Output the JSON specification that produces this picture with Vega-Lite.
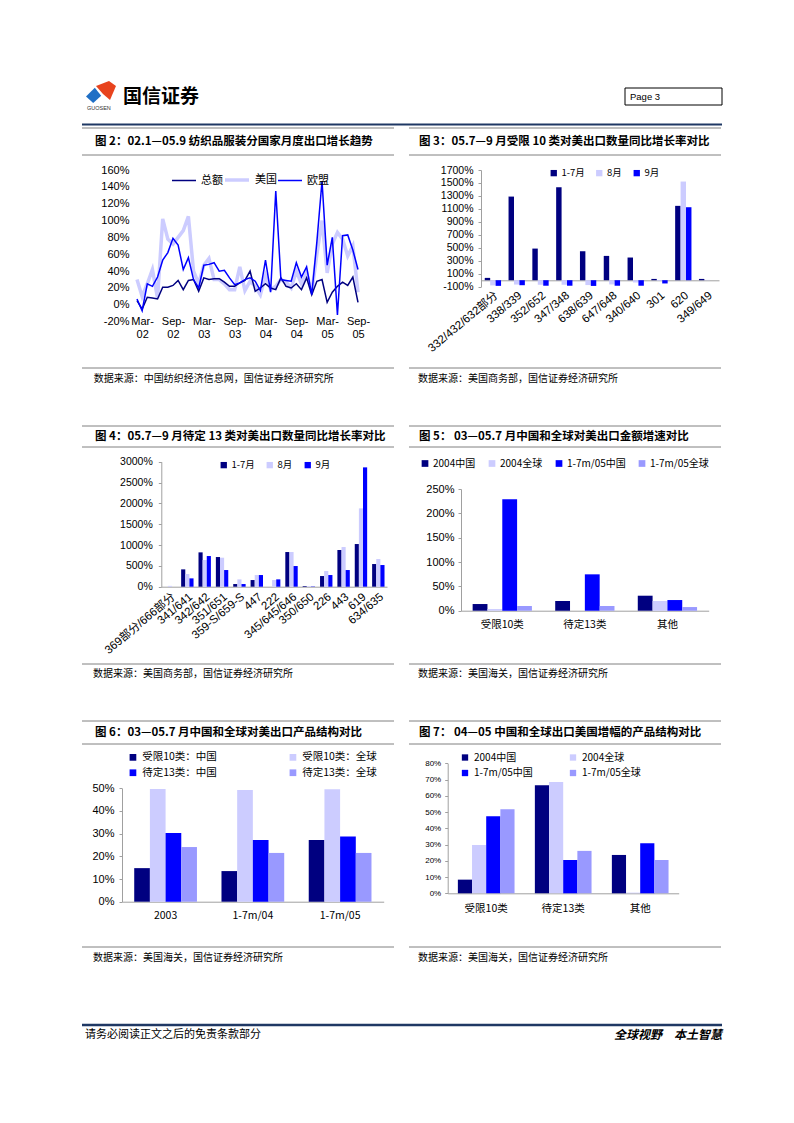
{
  "$schema": "https://vega.github.io/schema/vega-lite/v6.json",
  "background": "white",
  "padding": {"left": 80, "top": 0, "right": 0, "bottom": 0},
  "columns": 2,
  "spacing": {"row": 0, "column": 15},
  "bounds": "flush",
  "align": "each",
  "resolve": {
    "scale": {"color": "independent", "xOffset": "independent", "strokeWidth": "independent"},
    "legend": {"color": "independent", "strokeWidth": "independent"}
  },
  "config": {
    "view": {"stroke": null},
    "font": "Noto Sans CJK SC",
    "axis": {"labelColor": "#000", "grid": false, "domainColor": "#a0a0a0", "tickColor": "#a0a0a0"},
    "legend": {"padding": 0, "labelColor": "#000"}
  },
  "concat": [
    {
      "width": 312, "height": 128,
      "data": {"values": [{"name": "国信证券", "en": "GUOSEN"}]},
      "layer": [
        {"mark": {"type": "rule", "color": "#1f3864", "strokeWidth": 2},
         "encoding": {
           "x": {"datum": 0, "type": "quantitative", "scale": {"domain": [0, 312], "nice": false, "zero": false}, "axis": null},
           "x2": {"datum": 640},
           "y": {"datum": 124.5, "type": "quantitative", "scale": {"domain": [0, 128], "nice": false, "reverse": true}, "axis": null}}},
        {"mark": {"type": "point", "shape": "M -1 0.2 L 0.1 -0.9 L 0.9 0.1 L -0.1 1 Z", "size": 256, "filled": true, "color": "#1f6fc5", "opacity": 1},
         "encoding": {
           "x": {"datum": 12, "type": "quantitative", "scale": {"domain": [0, 312], "nice": false, "zero": false}, "axis": null},
           "y": {"datum": 95, "type": "quantitative", "scale": {"domain": [0, 128], "nice": false, "reverse": true}, "axis": null}}},
        {"mark": {"type": "point", "shape": "M -1 -0.5 L 0.3 -1 L 1 -0.5 L 0.4 0.9 L -0.3 0.3 Z", "size": 400, "filled": true, "color": "#e8431d", "opacity": 1},
         "encoding": {
           "x": {"datum": 24, "type": "quantitative", "scale": {"domain": [0, 312], "nice": false, "zero": false}, "axis": null},
           "y": {"datum": 91, "type": "quantitative", "scale": {"domain": [0, 128], "nice": false, "reverse": true}, "axis": null}}},
        {"mark": {"type": "text", "align": "left", "baseline": "middle", "fontSize": 5.5, "font": "Liberation Sans", "color": "#333"},
         "encoding": {
           "text": {"field": "en"},
           "x": {"datum": 5, "type": "quantitative", "scale": {"domain": [0, 312], "nice": false, "zero": false}, "axis": null},
           "y": {"datum": 108, "type": "quantitative", "scale": {"domain": [0, 128], "nice": false, "reverse": true}, "axis": null}}},
        {"mark": {"type": "text", "align": "left", "baseline": "middle", "fontSize": 19, "fontWeight": "bold", "color": "#000"},
         "encoding": {
           "text": {"field": "name"},
           "x": {"datum": 41, "type": "quantitative", "scale": {"domain": [0, 312], "nice": false, "zero": false}, "axis": null},
           "y": {"datum": 97, "type": "quantitative", "scale": {"domain": [0, 128], "nice": false, "reverse": true}, "axis": null}}}
      ]
    },
    {
      "width": 312, "height": 128,
      "data": {"values": [{"p": "Page   3"}]},
      "layer": [
        {"mark": {"type": "rect", "fill": "white", "stroke": "#000", "strokeWidth": 1},
         "encoding": {
           "x": {"datum": 216, "type": "quantitative", "scale": {"domain": [0, 312], "nice": false, "zero": false}, "axis": null},
           "x2": {"datum": 313},
           "y": {"datum": 88, "type": "quantitative", "scale": {"domain": [0, 128], "nice": false, "reverse": true}, "axis": null},
           "y2": {"datum": 105}}},
        {"mark": {"type": "text", "align": "left", "baseline": "middle", "fontSize": 9.5, "font": "Liberation Sans", "color": "#000"},
         "encoding": {
           "text": {"field": "p"},
           "x": {"datum": 221, "type": "quantitative", "scale": {"domain": [0, 312], "nice": false, "zero": false}, "axis": null},
           "y": {"datum": 96.5, "type": "quantitative", "scale": {"domain": [0, 128], "nice": false, "reverse": true}, "axis": null}}}
      ]
    },
    {
      "width": 312, "height": 27,
      "data": {"values": [{"t": "图 2：02.1—05.9 纺织品服装分国家月度出口增长趋势"}]},
      "layer": [
        {"mark": {"type": "rule", "color": "#808080", "strokeWidth": 1},
         "encoding": {"y": {"datum": 0, "type": "quantitative", "scale": {"domain": [0, 27], "nice": false, "reverse": true}, "axis": null}}},
        {"mark": {"type": "rule", "color": "#808080", "strokeWidth": 1},
         "encoding": {"y": {"datum": 27, "type": "quantitative", "scale": {"domain": [0, 27], "nice": false, "reverse": true}, "axis": null}}},
        {"mark": {"type": "text", "align": "left", "baseline": "middle", "fontSize": 11.5, "fontWeight": "bold", "color": "#000"},
         "encoding": {
           "text": {"field": "t"},
           "x": {"datum": 13, "type": "quantitative", "scale": {"domain": [0, 312], "nice": false, "zero": false}, "axis": null},
           "y": {"datum": 14, "type": "quantitative", "scale": {"domain": [0, 27], "nice": false, "reverse": true}, "axis": null}}}
      ]
    },
    {
      "width": 312, "height": 27,
      "data": {"values": [{"t": "图 3：05.7—9 月受限 10 类对美出口数量同比增长率对比"}]},
      "layer": [
        {"mark": {"type": "rule", "color": "#808080", "strokeWidth": 1},
         "encoding": {"y": {"datum": 0, "type": "quantitative", "scale": {"domain": [0, 27], "nice": false, "reverse": true}, "axis": null}}},
        {"mark": {"type": "rule", "color": "#808080", "strokeWidth": 1},
         "encoding": {"y": {"datum": 27, "type": "quantitative", "scale": {"domain": [0, 27], "nice": false, "reverse": true}, "axis": null}}},
        {"mark": {"type": "text", "align": "left", "baseline": "middle", "fontSize": 11.5, "fontWeight": "bold", "color": "#000"},
         "encoding": {
           "text": {"field": "t"},
           "x": {"datum": 10, "type": "quantitative", "scale": {"domain": [0, 312], "nice": false, "zero": false}, "axis": null},
           "y": {"datum": 14, "type": "quantitative", "scale": {"domain": [0, 27], "nice": false, "reverse": true}, "axis": null}}}
      ]
    },
    {
      "width": 312, "height": 213,
      "data": {"values": [
        {"m": "Feb-02", "总额": 5, "美国": 30, "欧盟": 7},
        {"m": "Mar-02", "总额": -5, "美国": 10, "欧盟": -7},
        {"m": "Apr-02", "总额": 9, "美国": 25, "欧盟": 25},
        {"m": "May-02", "总额": 8, "美国": 42, "欧盟": 22},
        {"m": "Jun-02", "总额": 7, "美国": 8, "欧盟": 33},
        {"m": "Jul-02", "总额": 21, "美国": 102, "欧盟": 53},
        {"m": "Aug-02", "总额": 21, "美国": 78, "欧盟": 62},
        {"m": "Sep-02", "总额": 23, "美国": 72, "欧盟": 79},
        {"m": "Oct-02", "总额": 29, "美国": 80, "欧盟": 71},
        {"m": "Nov-02", "总额": 18, "美国": 88, "欧盟": 42},
        {"m": "Dec-02", "总额": 29, "美国": 105, "欧盟": 56},
        {"m": "Jan-03", "总额": 30, "美国": 40, "欧盟": 30},
        {"m": "Feb-03", "总额": 16, "美国": 25, "欧盟": 20},
        {"m": "Mar-03", "总额": 32, "美国": 47, "欧盟": 47},
        {"m": "Apr-03", "总额": 30, "美国": 55, "欧盟": 48},
        {"m": "May-03", "总额": 31, "美国": 30, "欧盟": 50},
        {"m": "Jun-03", "总额": 31, "美国": 30, "欧盟": 40},
        {"m": "Jul-03", "总额": 27, "美国": 25, "欧盟": 41},
        {"m": "Aug-03", "总额": 22, "美国": 18, "欧盟": 32},
        {"m": "Sep-03", "总额": 22, "美国": 18, "欧盟": 24},
        {"m": "Oct-03", "总额": 26, "美国": 45, "欧盟": 26},
        {"m": "Nov-03", "总额": 29, "美国": 17, "欧盟": 30},
        {"m": "Dec-03", "总额": 40, "美国": 28, "欧盟": 32},
        {"m": "Jan-04", "总额": 16, "美国": 22, "欧盟": 28},
        {"m": "Feb-04", "总额": 20, "美国": 12, "欧盟": 17},
        {"m": "Mar-04", "总额": 25, "美国": 35, "欧盟": 53},
        {"m": "Apr-04", "总额": 20, "美国": 18, "欧盟": 15},
        {"m": "May-04", "总额": 18, "美国": 22, "欧盟": 135},
        {"m": "Jun-04", "总额": 32, "美国": 30, "欧盟": 30},
        {"m": "Jul-04", "总额": 22, "美国": 27, "欧盟": 29},
        {"m": "Aug-04", "总额": 20, "美国": 20, "欧盟": 28},
        {"m": "Sep-04", "总额": 25, "美国": 40, "欧盟": 50},
        {"m": "Oct-04", "总额": 18, "美国": 25, "欧盟": 33},
        {"m": "Nov-04", "总额": 32, "美国": 38, "欧盟": 45},
        {"m": "Dec-04", "总额": 12, "美国": 15, "欧盟": 12},
        {"m": "Jan-05", "总额": 28, "美国": 60, "欧盟": 75},
        {"m": "Feb-05", "总额": 30, "美国": 100, "欧盟": 147},
        {"m": "Mar-05", "总额": 3, "美国": 38, "欧盟": 47},
        {"m": "Apr-05", "总额": 15, "美国": 72, "欧盟": 80},
        {"m": "May-05", "总额": 22, "美国": 86, "欧盟": -12},
        {"m": "Jun-05", "总额": 27, "美国": 78, "欧盟": 82},
        {"m": "Jul-05", "总额": 23, "美国": 58, "欧盟": 83},
        {"m": "Aug-05", "总额": 33, "美国": 70, "欧盟": 65},
        {"m": "Sep-05", "总额": 3, "美国": 15, "欧盟": 42}
      ]},
      "transform": [{"fold": ["美国", "总额", "欧盟"], "as": ["s", "v"]}],
      "encoding": {
        "x": {"field": "m", "type": "ordinal", "sort": null,
              "scale": {"type": "point", "range": [55, 276], "padding": 0},
              "axis": {"title": null, "values": ["Mar-02", "Sep-02", "Mar-03", "Sep-03", "Mar-04", "Sep-04", "Mar-05", "Sep-05"],
                       "labelExpr": "[slice(datum.label, 0, 4), slice(datum.label, 4)]",
                       "labelAngle": 0, "domain": false, "ticks": false, "offset": -53, "labelPadding": 0,
                       "labelFont": "Liberation Sans", "labelFontSize": 11, "labelLineHeight": 13.5}},
        "y": {"field": "v", "type": "quantitative",
              "scale": {"domain": [-20, 160], "range": [166.7, 15], "nice": false},
              "axis": {"title": null, "values": [-20, 0, 20, 40, 60, 80, 100, 120, 140, 160], "labelExpr": "datum.value + '%'",
                       "offset": -52, "domain": false, "ticks": false, "labelPadding": 5,
                       "labelFont": "Liberation Sans", "labelFontSize": 11}},
        "color": {"field": "s", "type": "nominal",
                  "scale": {"domain": ["总额", "美国", "欧盟"], "range": ["#000080", "#ccccff", "#0000ff"]},
                  "legend": {"orient": "none", "legendX": 89, "legendY": 11, "direction": "horizontal", "title": null,
                             "symbolType": "stroke", "symbolSize": 576, "labelFontSize": 11, "labelOffset": 4, "columnPadding": -7}},
        "strokeWidth": {"field": "s", "type": "nominal",
                  "scale": {"type": "ordinal", "domain": ["总额", "美国", "欧盟"], "range": [1.5, 3.5, 1.5]},
                  "legend": {"orient": "none", "legendX": 89, "legendY": 11, "direction": "horizontal", "title": null,
                             "symbolType": "stroke", "symbolSize": 576, "labelFontSize": 11, "labelOffset": 4, "columnPadding": -7}}
      },
      "layer": [
        {"transform": [{"filter": "datum.s === '美国'"}], "mark": {"type": "line"}},
        {"transform": [{"filter": "datum.s !== '美国'"}], "mark": {"type": "line"}}
      ]
    },
    {
      "width": 312, "height": 213,
      "data": {"values": [
        {"c": "332/432/632部分", "1-7月": 36, "8月": -80, "9月": -87},
        {"c": "338/339", "1-7月": 1290, "8月": -67, "9月": -77},
        {"c": "352/652", "1-7月": 488, "8月": -70, "9月": -85},
        {"c": "347/348", "1-7月": 1434, "8月": -70, "9月": -85},
        {"c": "638/639", "1-7月": 447, "8月": -75, "9月": -88},
        {"c": "647/648", "1-7月": 375, "8月": -65, "9月": -85},
        {"c": "340/640", "1-7月": 350, "8月": -35, "9月": -85},
        {"c": "301", "1-7月": 20, "8月": -10, "9月": -50},
        {"c": "620", "1-7月": 1147, "8月": 1522, "9月": 1126},
        {"c": "349/649", "1-7月": 20, "8月": 5, "9月": 0}
      ]},
      "transform": [{"fold": ["1-7月", "8月", "9月"], "as": ["s", "v"]}],
      "mark": {"type": "bar"},
      "encoding": {
        "x": {"field": "c", "type": "nominal", "sort": null,
              "scale": {"range": [72, 310], "paddingInner": 0.315, "paddingOuter": 0.1575},
              "axis": {"title": null, "labelAngle": -40, "labelAlign": "right", "labelBaseline": "top", "offset": -87.7,
                       "domain": true, "ticks": false, "labelPadding": 9,
                       "labelFont": "Liberation Sans, Noto Sans CJK SC", "labelFontSize": 11.5}},
        "xOffset": {"field": "s", "type": "nominal", "scale": {"domain": ["1-7月", "8月", "9月"]}},
        "y": {"field": "v", "type": "quantitative",
              "scale": {"domain": [-100, 1700], "range": [131.7, 15], "nice": false},
              "axis": {"title": null, "values": [-100, 100, 300, 500, 700, 900, 1100, 1300, 1500, 1700], "labelExpr": "datum.value + '%'",
                       "offset": -72, "domain": true, "ticks": true, "tickSize": 3, "labelPadding": 5,
                       "labelFont": "Liberation Sans", "labelFontSize": 10.5}},
        "color": {"field": "s", "type": "nominal",
                  "scale": {"domain": ["1-7月", "8月", "9月"], "range": ["#000080", "#ccccff", "#0000ff"]},
                  "legend": {"orient": "none", "legendX": 140, "legendY": 13, "direction": "horizontal", "title": null,
                             "symbolType": "square", "symbolSize": 40, "symbolStrokeWidth": 0, "labelFontSize": 9.5, "labelOffset": 3, "columnPadding": 9.5}}
      }
    },
    {
      "width": 312, "height": 58,
      "data": {"values": [{"t": "数据来源：中国纺织经济信息网，国信证券经济研究所"}]},
      "layer": [
        {"mark": {"type": "rule", "color": "#808080", "strokeWidth": 1},
         "encoding": {"y": {"datum": 0, "type": "quantitative", "scale": {"domain": [0, 58], "nice": false, "reverse": true}, "axis": null}}},
        {"mark": {"type": "text", "align": "left", "baseline": "middle", "fontSize": 10, "color": "#000"},
         "encoding": {
           "text": {"field": "t"},
           "x": {"datum": 11.7, "type": "quantitative", "scale": {"domain": [0, 312], "nice": false, "zero": false}, "axis": null},
           "y": {"datum": 11, "type": "quantitative", "scale": {"domain": [0, 58], "nice": false, "reverse": true}, "axis": null}}}
      ]
    },
    {
      "width": 312, "height": 58,
      "data": {"values": [{"t": "数据来源：美国商务部，国信证券经济研究所"}]},
      "layer": [
        {"mark": {"type": "rule", "color": "#808080", "strokeWidth": 1},
         "encoding": {"y": {"datum": 0, "type": "quantitative", "scale": {"domain": [0, 58], "nice": false, "reverse": true}, "axis": null}}},
        {"mark": {"type": "text", "align": "left", "baseline": "middle", "fontSize": 10, "color": "#000"},
         "encoding": {
           "text": {"field": "t"},
           "x": {"datum": 9, "type": "quantitative", "scale": {"domain": [0, 312], "nice": false, "zero": false}, "axis": null},
           "y": {"datum": 11, "type": "quantitative", "scale": {"domain": [0, 58], "nice": false, "reverse": true}, "axis": null}}}
      ]
    },
    {
      "width": 312, "height": 21,
      "data": {"values": [{"t": "图 4：05.7—9 月待定 13 类对美出口数量同比增长率对比"}]},
      "layer": [
        {"mark": {"type": "rule", "color": "#808080", "strokeWidth": 1},
         "encoding": {"y": {"datum": 0, "type": "quantitative", "scale": {"domain": [0, 21], "nice": false, "reverse": true}, "axis": null}}},
        {"mark": {"type": "rule", "color": "#808080", "strokeWidth": 1},
         "encoding": {"y": {"datum": 21, "type": "quantitative", "scale": {"domain": [0, 21], "nice": false, "reverse": true}, "axis": null}}},
        {"mark": {"type": "text", "align": "left", "baseline": "middle", "fontSize": 11.5, "fontWeight": "bold", "color": "#000"},
         "encoding": {
           "text": {"field": "t"},
           "x": {"datum": 13, "type": "quantitative", "scale": {"domain": [0, 312], "nice": false, "zero": false}, "axis": null},
           "y": {"datum": 11, "type": "quantitative", "scale": {"domain": [0, 21], "nice": false, "reverse": true}, "axis": null}}}
      ]
    },
    {
      "width": 312, "height": 21,
      "data": {"values": [{"t": "图 5：  03—05.7 月中国和全球对美出口金额增速对比"}]},
      "layer": [
        {"mark": {"type": "rule", "color": "#808080", "strokeWidth": 1},
         "encoding": {"y": {"datum": 0, "type": "quantitative", "scale": {"domain": [0, 21], "nice": false, "reverse": true}, "axis": null}}},
        {"mark": {"type": "rule", "color": "#808080", "strokeWidth": 1},
         "encoding": {"y": {"datum": 21, "type": "quantitative", "scale": {"domain": [0, 21], "nice": false, "reverse": true}, "axis": null}}},
        {"mark": {"type": "text", "align": "left", "baseline": "middle", "fontSize": 11.5, "fontWeight": "bold", "color": "#000"},
         "encoding": {
           "text": {"field": "t"},
           "x": {"datum": 10, "type": "quantitative", "scale": {"domain": [0, 312], "nice": false, "zero": false}, "axis": null},
           "y": {"datum": 11, "type": "quantitative", "scale": {"domain": [0, 21], "nice": false, "reverse": true}, "axis": null}}}
      ]
    },
    {
      "width": 312, "height": 217,
      "data": {"values": [
        {"c": "369部分/666部分", "1-7月": 0, "8月": 20, "9月": 0},
        {"c": "341/641", "1-7月": 416, "8月": 304, "9月": 200},
        {"c": "342/642", "1-7月": 824, "8月": 640, "9月": 736},
        {"c": "351/651", "1-7月": 712, "8月": 696, "9月": 400},
        {"c": "359-S/659-S", "1-7月": 64, "8月": 176, "9月": 64},
        {"c": "447", "1-7月": 160, "8月": 280, "9月": 280},
        {"c": "222", "1-7月": 0, "8月": 160, "9月": 176},
        {"c": "345/645/646", "1-7月": 832, "8月": 832, "9月": 496},
        {"c": "350/650", "1-7月": 16, "8月": 16, "9月": 8},
        {"c": "226", "1-7月": 256, "8月": 376, "9月": 280},
        {"c": "443", "1-7月": 880, "8月": 952, "9月": 400},
        {"c": "619", "1-7月": 1024, "8月": 1880, "9月": 2864},
        {"c": "634/635", "1-7月": 544, "8月": 664, "9月": 520}
      ]},
      "transform": [{"fold": ["1-7月", "8月", "9月"], "as": ["s", "v"]}],
      "mark": {"type": "bar"},
      "encoding": {
        "x": {"field": "c", "type": "nominal", "sort": null,
              "scale": {"range": [79.3, 305], "paddingInner": 0.286, "paddingOuter": 0.143},
              "axis": {"title": null, "labelAngle": -40, "labelAlign": "right", "labelBaseline": "top", "offset": -77.3,
                       "domain": true, "ticks": false, "labelPadding": 4,
                       "labelFont": "Liberation Sans, Noto Sans CJK SC", "labelFontSize": 11.5}},
        "xOffset": {"field": "s", "type": "nominal", "scale": {"domain": ["1-7月", "8月", "9月"]}},
        "y": {"field": "v", "type": "quantitative",
              "scale": {"domain": [0, 3000], "range": [139.7, 14.7], "nice": false},
              "axis": {"title": null, "values": [0, 500, 1000, 1500, 2000, 2500, 3000], "labelExpr": "datum.value + '%'",
                       "offset": -79.3, "domain": true, "ticks": true, "tickSize": 3, "labelPadding": 6,
                       "labelFont": "Liberation Sans", "labelFontSize": 10.5}},
        "color": {"field": "s", "type": "nominal",
                  "scale": {"domain": ["1-7月", "8月", "9月"], "range": ["#000080", "#ccccff", "#0000ff"]},
                  "legend": {"orient": "none", "legendX": 137, "legendY": 13, "direction": "horizontal", "title": null,
                             "symbolType": "square", "symbolSize": 40, "symbolStrokeWidth": 0, "labelFontSize": 9.5, "labelOffset": 3, "columnPadding": 10}}
      }
    },
    {
      "width": 312, "height": 217,
      "data": {"values": [
        {"c": "受限10类", "2004中国": 13.7, "2004全球": 3.4, "1-7m/05中国": 229, "1-7m/05全球": 9.6},
        {"c": "待定13类", "2004中国": 19.9, "2004全球": 0, "1-7m/05中国": 74.7, "1-7m/05全球": 9.6},
        {"c": "其他", "2004中国": 30.8, "2004全球": 19.9, "1-7m/05中国": 21.9, "1-7m/05全球": 7.5}
      ]},
      "transform": [{"fold": ["2004中国", "2004全球", "1-7m/05中国", "1-7m/05全球"], "as": ["s", "v"]}],
      "mark": {"type": "bar"},
      "encoding": {
        "x": {"field": "c", "type": "nominal", "sort": null,
              "scale": {"range": [52, 299.7], "paddingInner": 0.282, "paddingOuter": 0.141},
              "axis": {"title": null, "labelAngle": 0, "offset": -53.3, "domain": true, "ticks": false, "labelPadding": 9,
                       "labelFontSize": 10.5}},
        "xOffset": {"field": "s", "type": "nominal", "scale": {"domain": ["2004中国", "2004全球", "1-7m/05中国", "1-7m/05全球"]}},
        "y": {"field": "v", "type": "quantitative",
              "scale": {"domain": [0, 250], "range": [163.7, 42], "nice": false},
              "axis": {"title": null, "values": [0, 50, 100, 150, 200, 250], "labelExpr": "datum.value + '%'",
                       "offset": -52, "domain": true, "ticks": true, "tickSize": 3, "labelPadding": 4,
                       "labelFont": "Liberation Sans", "labelFontSize": 11}},
        "color": {"field": "s", "type": "nominal",
                  "scale": {"domain": ["2004中国", "2004全球", "1-7m/05中国", "1-7m/05全球"], "range": ["#000080", "#ccccff", "#0000ff", "#9999ff"]},
                  "legend": {"orient": "none", "legendX": 11, "legendY": 11.5, "direction": "horizontal", "title": null,
                             "symbolType": "square", "symbolSize": 45, "symbolStrokeWidth": 0, "labelFontSize": 10, "labelOffset": 3, "columnPadding": 11}}
      }
    },
    {
      "width": 312, "height": 57,
      "data": {"values": [{"t": "数据来源：美国商务部，国信证券经济研究所"}]},
      "layer": [
        {"mark": {"type": "rule", "color": "#808080", "strokeWidth": 1},
         "encoding": {"y": {"datum": 0, "type": "quantitative", "scale": {"domain": [0, 57], "nice": false, "reverse": true}, "axis": null}}},
        {"mark": {"type": "text", "align": "left", "baseline": "middle", "fontSize": 10, "color": "#000"},
         "encoding": {
           "text": {"field": "t"},
           "x": {"datum": 11, "type": "quantitative", "scale": {"domain": [0, 312], "nice": false, "zero": false}, "axis": null},
           "y": {"datum": 10, "type": "quantitative", "scale": {"domain": [0, 57], "nice": false, "reverse": true}, "axis": null}}}
      ]
    },
    {
      "width": 312, "height": 57,
      "data": {"values": [{"t": "数据来源：美国海关，国信证券经济研究所"}]},
      "layer": [
        {"mark": {"type": "rule", "color": "#808080", "strokeWidth": 1},
         "encoding": {"y": {"datum": 0, "type": "quantitative", "scale": {"domain": [0, 57], "nice": false, "reverse": true}, "axis": null}}},
        {"mark": {"type": "text", "align": "left", "baseline": "middle", "fontSize": 10, "color": "#000"},
         "encoding": {
           "text": {"field": "t"},
           "x": {"datum": 9, "type": "quantitative", "scale": {"domain": [0, 312], "nice": false, "zero": false}, "axis": null},
           "y": {"datum": 10, "type": "quantitative", "scale": {"domain": [0, 57], "nice": false, "reverse": true}, "axis": null}}}
      ]
    },
    {
      "width": 312, "height": 23,
      "data": {"values": [{"t": "图 6：03—05.7 月中国和全球对美出口产品结构对比"}]},
      "layer": [
        {"mark": {"type": "rule", "color": "#808080", "strokeWidth": 1},
         "encoding": {"y": {"datum": 0, "type": "quantitative", "scale": {"domain": [0, 23], "nice": false, "reverse": true}, "axis": null}}},
        {"mark": {"type": "rule", "color": "#808080", "strokeWidth": 1},
         "encoding": {"y": {"datum": 23, "type": "quantitative", "scale": {"domain": [0, 23], "nice": false, "reverse": true}, "axis": null}}},
        {"mark": {"type": "text", "align": "left", "baseline": "middle", "fontSize": 11.5, "fontWeight": "bold", "color": "#000"},
         "encoding": {
           "text": {"field": "t"},
           "x": {"datum": 13, "type": "quantitative", "scale": {"domain": [0, 312], "nice": false, "zero": false}, "axis": null},
           "y": {"datum": 12.3, "type": "quantitative", "scale": {"domain": [0, 23], "nice": false, "reverse": true}, "axis": null}}}
      ]
    },
    {
      "width": 312, "height": 23,
      "data": {"values": [{"t": "图 7：  04—05 中国和全球出口美国增幅的产品结构对比"}]},
      "layer": [
        {"mark": {"type": "rule", "color": "#808080", "strokeWidth": 1},
         "encoding": {"y": {"datum": 0, "type": "quantitative", "scale": {"domain": [0, 23], "nice": false, "reverse": true}, "axis": null}}},
        {"mark": {"type": "rule", "color": "#808080", "strokeWidth": 1},
         "encoding": {"y": {"datum": 23, "type": "quantitative", "scale": {"domain": [0, 23], "nice": false, "reverse": true}, "axis": null}}},
        {"mark": {"type": "text", "align": "left", "baseline": "middle", "fontSize": 11.5, "fontWeight": "bold", "color": "#000"},
         "encoding": {
           "text": {"field": "t"},
           "x": {"datum": 10, "type": "quantitative", "scale": {"domain": [0, 312], "nice": false, "zero": false}, "axis": null},
           "y": {"datum": 12.3, "type": "quantitative", "scale": {"domain": [0, 23], "nice": false, "reverse": true}, "axis": null}}}
      ]
    },
    {
      "width": 312, "height": 203,
      "data": {"values": [
        {"c": "2003", "受限10类：中国": 14.8, "受限10类：全球": 49.7, "待定13类：中国": 30.3, "待定13类：全球": 24.1},
        {"c": "1-7m/04", "受限10类：中国": 13.5, "受限10类：全球": 49.3, "待定13类：中国": 27.2, "待定13类：全球": 21.5},
        {"c": "1-7m/05", "受限10类：中国": 27.2, "受限10类：全球": 49.6, "待定13类：中国": 28.8, "待定13类：全球": 21.5}
      ]},
      "transform": [{"fold": ["受限10类：中国", "受限10类：全球", "待定13类：中国", "待定13类：全球"], "as": ["s", "v"]}],
      "mark": {"type": "bar"},
      "encoding": {
        "x": {"field": "c", "type": "nominal", "sort": null,
              "scale": {"range": [40, 301.7], "paddingInner": 0.281, "paddingOuter": 0.14},
              "axis": {"title": null, "labelAngle": 0, "offset": -45.3, "domain": true, "ticks": false, "labelPadding": 9,
                       "labelFontSize": 10.5}},
        "xOffset": {"field": "s", "type": "nominal", "scale": {"domain": ["受限10类：中国", "受限10类：全球", "待定13类：中国", "待定13类：全球"]}},
        "y": {"field": "v", "type": "quantitative",
              "scale": {"domain": [0, 50], "range": [157.7, 44.3], "nice": false},
              "axis": {"title": null, "values": [0, 10, 20, 30, 40, 50], "labelExpr": "datum.value + '%'",
                       "offset": -40, "domain": true, "ticks": true, "tickSize": 3, "labelPadding": 5,
                       "labelFont": "Liberation Sans", "labelFontSize": 11}},
        "color": {"field": "s", "type": "nominal",
                  "scale": {"domain": ["受限10类：中国", "受限10类：全球", "待定13类：中国", "待定13类：全球"], "range": ["#000080", "#ccccff", "#0000ff", "#9999ff"]},
                  "legend": {"orient": "none", "legendX": 45.7, "legendY": 8, "direction": "horizontal", "columns": 2, "title": null,
                             "symbolType": "square", "symbolSize": 45, "symbolStrokeWidth": 0, "labelFontSize": 10.5, "labelOffset": 4,
                             "columnPadding": 70, "rowPadding": 4.5}}
      }
    },
    {
      "width": 312, "height": 203,
      "data": {"values": [
        {"c": "受限10类", "2004中国": 8.4, "2004全球": 29.7, "1-7m/05中国": 47.4, "1-7m/05全球": 51.7},
        {"c": "待定13类", "2004中国": 66.5, "2004全球": 68.5, "1-7m/05中国": 20.5, "1-7m/05全球": 26.1},
        {"c": "其他", "2004中国": 23.6, "2004全球": 0.4, "1-7m/05中国": 30.8, "1-7m/05全球": 20.5}
      ]},
      "transform": [{"fold": ["2004中国", "2004全球", "1-7m/05中国", "1-7m/05全球"], "as": ["s", "v"]}],
      "mark": {"type": "bar"},
      "encoding": {
        "x": {"field": "c", "type": "nominal", "sort": null,
              "scale": {"range": [38.7, 269.7], "paddingInner": 0.264, "paddingOuter": 0.132},
              "axis": {"title": null, "labelAngle": 0, "offset": -53.7, "domain": true, "ticks": false, "labelPadding": 10,
                       "labelFontSize": 10.5}},
        "xOffset": {"field": "s", "type": "nominal", "scale": {"domain": ["2004中国", "2004全球", "1-7m/05中国", "1-7m/05全球"]}},
        "y": {"field": "v", "type": "quantitative",
              "scale": {"domain": [0, 80], "range": [149.3, 19.3], "nice": false},
              "axis": {"title": null, "values": [0, 10, 20, 30, 40, 50, 60, 70, 80], "labelExpr": "datum.value + '%'",
                       "offset": -38.7, "domain": true, "ticks": true, "tickSize": 3, "labelPadding": 4,
                       "labelFont": "Liberation Sans", "labelFontSize": 8}},
        "color": {"field": "s", "type": "nominal",
                  "scale": {"domain": ["2004中国", "2004全球", "1-7m/05中国", "1-7m/05全球"], "range": ["#000080", "#ccccff", "#0000ff", "#9999ff"]},
                  "legend": {"orient": "none", "legendX": 51, "legendY": 8.5, "direction": "horizontal", "columns": 2, "title": null,
                             "symbolType": "square", "symbolSize": 40, "symbolStrokeWidth": 0, "labelFontSize": 10, "labelOffset": 4,
                             "columnPadding": 35, "rowPadding": 5.5}}
      }
    },
    {
      "width": 312, "height": 63,
      "data": {"values": [{"t": "数据来源：美国海关，国信证券经济研究所"}]},
      "layer": [
        {"mark": {"type": "rule", "color": "#808080", "strokeWidth": 1},
         "encoding": {"y": {"datum": 0, "type": "quantitative", "scale": {"domain": [0, 63], "nice": false, "reverse": true}, "axis": null}}},
        {"mark": {"type": "text", "align": "left", "baseline": "middle", "fontSize": 10, "color": "#000"},
         "encoding": {
           "text": {"field": "t"},
           "x": {"datum": 11, "type": "quantitative", "scale": {"domain": [0, 312], "nice": false, "zero": false}, "axis": null},
           "y": {"datum": 11, "type": "quantitative", "scale": {"domain": [0, 63], "nice": false, "reverse": true}, "axis": null}}}
      ]
    },
    {
      "width": 312, "height": 63,
      "data": {"values": [{"t": "数据来源：美国海关，国信证券经济研究所"}]},
      "layer": [
        {"mark": {"type": "rule", "color": "#808080", "strokeWidth": 1},
         "encoding": {"y": {"datum": 0, "type": "quantitative", "scale": {"domain": [0, 63], "nice": false, "reverse": true}, "axis": null}}},
        {"mark": {"type": "text", "align": "left", "baseline": "middle", "fontSize": 10, "color": "#000"},
         "encoding": {
           "text": {"field": "t"},
           "x": {"datum": 9, "type": "quantitative", "scale": {"domain": [0, 312], "nice": false, "zero": false}, "axis": null},
           "y": {"datum": 11, "type": "quantitative", "scale": {"domain": [0, 63], "nice": false, "reverse": true}, "axis": null}}}
      ]
    },
    {
      "width": 312, "height": 113,
      "data": {"values": [{"t": "请务必阅读正文之后的免责条款部分"}]},
      "layer": [
        {"mark": {"type": "rule", "color": "#1f3864", "strokeWidth": 2.5},
         "encoding": {
           "x": {"datum": 0, "type": "quantitative", "scale": {"domain": [0, 312], "nice": false, "zero": false}, "axis": null},
           "x2": {"datum": 640},
           "y": {"datum": 15, "type": "quantitative", "scale": {"domain": [0, 113], "nice": false, "reverse": true}, "axis": null}}},
        {"mark": {"type": "text", "align": "left", "baseline": "middle", "fontSize": 11, "color": "#000"},
         "encoding": {
           "text": {"field": "t"},
           "x": {"datum": 3, "type": "quantitative", "scale": {"domain": [0, 312], "nice": false, "zero": false}, "axis": null},
           "y": {"datum": 25, "type": "quantitative", "scale": {"domain": [0, 113], "nice": false, "reverse": true}, "axis": null}}}
      ]
    },
    {
      "width": 312, "height": 113,
      "data": {"values": [{"t": "全球视野　本土智慧"}]},
      "mark": {"type": "text", "align": "right", "baseline": "middle", "fontSize": 12, "fontWeight": "bold", "fontStyle": "italic", "color": "#000"},
      "encoding": {
        "text": {"field": "t"},
        "x": {"datum": 313, "type": "quantitative", "scale": {"domain": [0, 312], "nice": false, "zero": false}, "axis": null},
        "y": {"datum": 25, "type": "quantitative", "scale": {"domain": [0, 113], "nice": false, "reverse": true}, "axis": null}
      }
    }
  ]
}
